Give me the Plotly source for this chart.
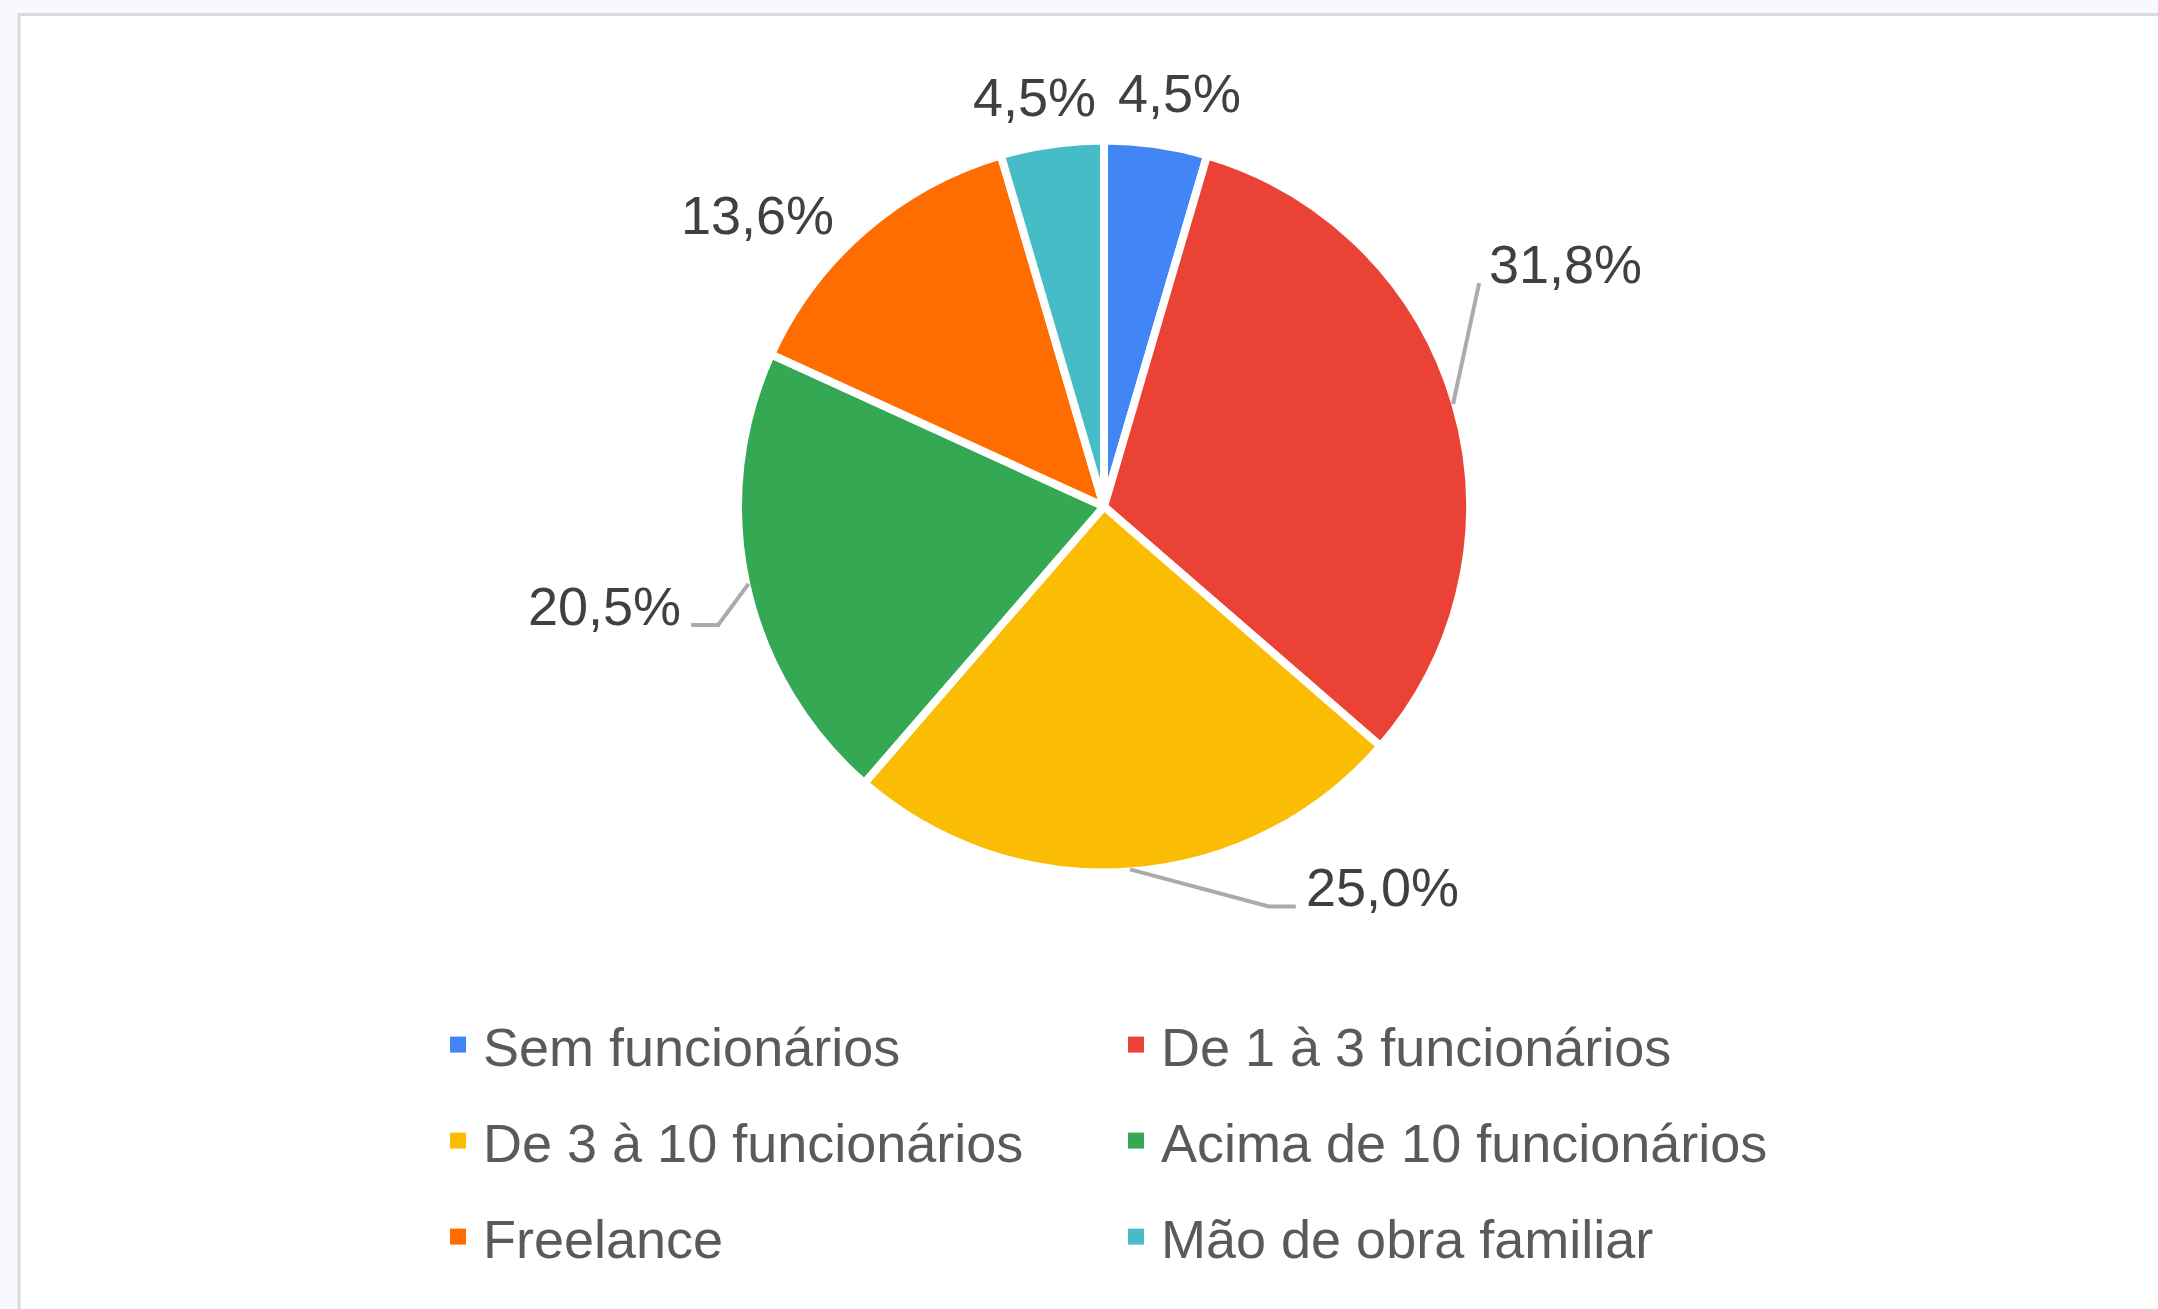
import math
import plotly.graph_objects as go

# ---------------- data ----------------
categories = ["Sem funcionários", "De 1 à 3 funcionários", "De 3 à 10 funcionários",
              "Acima de 10 funcionários", "Freelance", "Mão de obra familiar"]
counts = [2, 14, 11, 9, 6, 2]
colors = ["#4285F4", "#EA4335", "#FBBC04", "#34A853", "#FF6D01", "#46BDC6"]

# ---------------- layout / style ----------------
W, H = 2158, 1309
CX, CY, R = 1104, 506.5, 362          # pie centre and visible radius (px)
SEP = 8                               # white separator width
FONT = "Liberation Sans, Arial, sans-serif"
FS = 54
LABEL_COLOR = "#404040"
LEGEND_COLOR = "#5a5a5a"
LEADER_COLOR = "#ababab"
BAND = "#f8f9fe"
# per-slice label placement: (mode, angle offset from slice mid-angle in deg, radius factor, hseg px)
label_style = [
    ("free", 2.1, 1.162, 0),
    ("leader", -14.4, 1.206, 0),
    ("leader", -18.3, 1.195, 27),
    ("leader", -4.8, 1.115, 27),
    ("free", -9.0, 1.251, 0),
    ("free", -1.4, 1.146, 0),
]
LEG_ROWS_Y = [1045, 1141, 1237]
LEG_X = 433
LEG_ENTRY = 623
LEG_ITEMW = 40


def px(x):
    return x / W


def py(y):
    return 1 - y / H


def polar(angle_deg, k):
    a = math.radians(angle_deg)
    return CX + k * R * math.sin(a), CY - k * R * math.cos(a)


total = sum(counts)
rr = R + SEP / 2
fig = go.Figure()
fig.add_trace(go.Pie(
    values=counts, labels=categories, sort=False, direction="clockwise", rotation=0,
    marker=dict(colors=colors, line=dict(color="white", width=SEP)),
    textinfo="none", showlegend=False,
    domain=dict(x=[px(CX - rr), px(CX + rr)], y=[py(CY + rr), py(CY - rr)]),
))

annotations = []
shapes = [dict(type="rect", xref="paper", yref="paper", layer="below",
               x0=px(19), x1=1.02, y0=-0.02, y1=py(14.5),
               fillcolor="white", line=dict(color="#d9d9d9", width=3))]
cum = 0
for i, v in enumerate(counts):
    mid = (cum + v / 2) / total * 360
    cum += v
    txt = f"{v / total * 100:.1f}%".replace(".", ",")
    mode, da, k, hseg = label_style[i]
    if mode == "free":
        tx, ty = polar(mid + da, k)
        annotations.append(dict(x=px(tx), y=py(ty), xref="paper", yref="paper",
                                text=txt, showarrow=False, xanchor="center", yanchor="middle",
                                font=dict(family=FONT, size=FS, color=LABEL_COLOR)))
    else:
        sx, sy = polar(mid, 1.005)
        ex, ey = polar(mid + da, k)
        right = ex >= CX
        hx = ex + hseg if right else ex - hseg
        path = f"M {px(sx)},{py(sy)} L {px(ex)},{py(ey)} L {px(hx)},{py(ey)}"
        shapes.append(dict(type="path", xref="paper", yref="paper", path=path,
                           line=dict(color=LEADER_COLOR, width=4)))
        gap = 8
        annotations.append(dict(x=px(hx + gap if right else hx - gap), y=py(ey - 19),
                                xref="paper", yref="paper", text=txt, showarrow=False,
                                xanchor="left" if right else "right", yanchor="middle",
                                font=dict(family=FONT, size=FS, color=LABEL_COLOR)))

# legend entries (three rows of two)
legend_names = ["legend", "legend2", "legend3"]
for i, (cat, col) in enumerate(zip(categories, colors)):
    fig.add_trace(go.Scatter(x=[None], y=[None], mode="markers", name=cat,
                             marker=dict(symbol="square", size=16, color=col),
                             legend=legend_names[i // 2], hoverinfo="skip"))

leg_common = dict(orientation="h", xanchor="left", yanchor="middle",
                  bgcolor="rgba(0,0,0,0)", borderwidth=0, itemwidth=LEG_ITEMW,
                  entrywidth=LEG_ENTRY, entrywidthmode="pixels",
                  font=dict(family=FONT, size=FS, color=LEGEND_COLOR))
legends = {}
for j, name in enumerate(legend_names):
    legends[name] = dict(x=px(LEG_X), y=py(LEG_ROWS_Y[j]), **leg_common)

fig.update_layout(
    width=W, height=H, margin=dict(l=0, r=0, t=0, b=0),
    paper_bgcolor=BAND, plot_bgcolor="rgba(0,0,0,0)",
    xaxis=dict(visible=False), yaxis=dict(visible=False),
    shapes=shapes, annotations=annotations,
    **legends,
)
fig.write_html("out.html", config={"displayModeBar": False},
               post_script=f"document.body.style.margin='0px';document.body.style.background='{BAND}';")
